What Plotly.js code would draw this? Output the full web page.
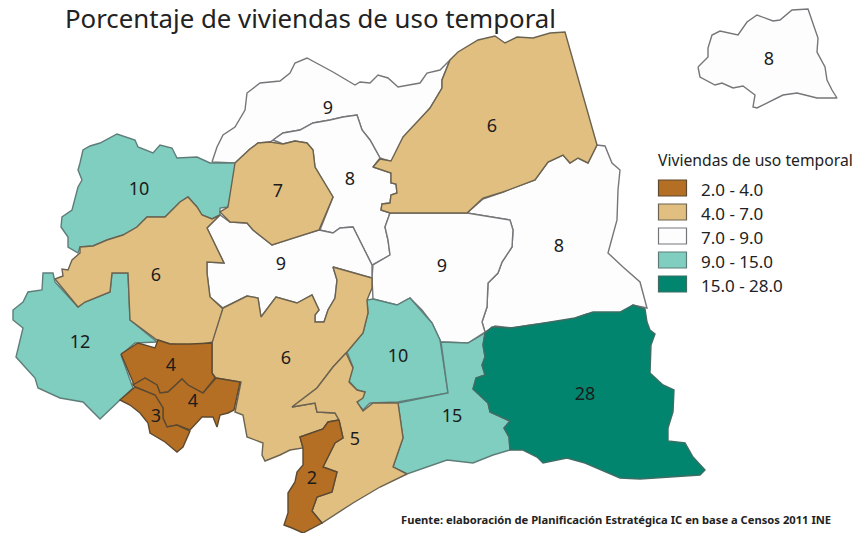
<!DOCTYPE html>
<html>
<head>
<meta charset="utf-8">
<script src="https://cdn.plot.ly/plotly-3.0.1.min.js"></script>
<style>html,body{margin:0;padding:0;background:#fff}#chart{width:860px;height:533px}</style>
</head>
<body>
<div id="chart"></div>
<script>
const norteNueve = [[212,162],[217,147],[223,135],[235,127],[245,110],[247,93],[260,83],[280,81],[290,73],[295,63],[307,58],[320,65],[333,72],[355,85],[360,82],[370,83],[378,75],[388,78],[398,87],[420,83],[427,73],[440,70],[450,60],[442,80],[442,88],[430,108],[410,132],[392,162],[380,158],[370,140],[362,130],[357,115],[343,117],[330,120],[313,123],[300,130],[283,133],[273,140],[270,142],[258,143],[250,149],[235,163]];
const centroOcho = [[273,140],[283,133],[300,130],[313,123],[330,120],[343,117],[357,115],[362,130],[370,140],[380,158],[373,167],[391,173],[391,183],[396,184],[397,193],[391,195],[390,203],[382,204],[381,210],[390,213],[385,227],[388,240],[390,255],[372,265],[363,247],[353,227],[340,228],[333,233],[320,230],[333,197],[315,167],[313,150],[307,143],[295,141],[283,144]];
const esteOcho = [[467,213],[483,199],[503,192],[535,180],[548,162],[563,155],[570,163],[578,158],[588,163],[597,145],[605,146],[612,163],[620,170],[618,190],[617,220],[608,253],[623,267],[640,282],[647,308],[633,305],[622,313],[587,314],[570,320],[530,325],[513,328],[495,326],[485,332],[482,322],[487,307],[488,283],[498,273],[502,262],[512,247],[513,230],[510,220]];
const centroEsteNueve = [[390,213],[430,213],[467,213],[510,220],[513,230],[512,247],[502,262],[498,273],[488,283],[487,307],[482,322],[485,332],[468,343],[441,342],[432,323],[422,310],[410,298],[397,305],[373,299],[372,278],[373,265],[390,255],[388,240],[385,227]];
const centroOesteNueve = [[207,228],[220,215],[230,222],[247,223],[253,230],[272,245],[293,238],[319,230],[333,233],[340,228],[353,227],[363,247],[372,265],[372,278],[333,267],[337,280],[335,298],[328,310],[324,322],[315,322],[315,315],[319,310],[312,295],[297,303],[276,297],[261,317],[258,298],[247,296],[223,308],[210,297],[207,273],[207,262],[224,263]];
const lejanoOcho = [[698,67],[708,57],[708,48],[712,35],[720,31],[738,35],[747,22],[757,15],[773,21],[780,20],[792,10],[808,9],[818,38],[817,52],[825,67],[827,80],[832,90],[837,98],[817,98],[797,93],[783,95],[757,108],[753,107],[755,95],[743,86],[733,88],[722,83],[715,85],[700,77]];
const noroesteDiez = [[80,163],[83,150],[90,146],[100,143],[117,134],[127,137],[135,140],[138,147],[153,153],[160,145],[172,148],[177,158],[197,157],[210,163],[237,163],[228,207],[220,208],[220,215],[212,219],[202,215],[197,207],[188,197],[180,202],[165,217],[147,217],[137,227],[123,235],[107,240],[93,246],[80,247],[78,253],[68,247],[68,237],[61,227],[62,217],[72,210],[78,187],[82,180],[78,170]];
const oesteDoce = [[55,282],[53,273],[43,273],[42,290],[28,292],[23,302],[13,310],[13,320],[23,328],[16,357],[25,367],[35,378],[38,388],[60,398],[83,402],[100,419],[120,400],[133,388],[121,355],[135,343],[157,342],[130,320],[128,273],[112,273],[110,292],[85,302],[78,307]];
const centroDiez = [[347,352],[363,333],[368,313],[367,300],[373,299],[397,305],[410,298],[432,323],[440,340],[448,393],[398,402],[370,403],[363,410],[357,403],[365,392],[357,390],[348,380],[353,367]];
const surQuince = [[441,342],[468,343],[485,333],[483,345],[485,357],[482,365],[485,375],[476,378],[473,389],[488,403],[490,412],[510,421],[504,428],[509,437],[510,450],[493,455],[473,463],[447,460],[407,474],[393,467],[403,438],[398,403],[448,393]];
const oesteSeis = [[55,279],[63,276],[62,269],[68,270],[72,260],[80,253],[80,247],[93,246],[107,240],[123,235],[137,227],[147,217],[165,217],[180,202],[188,197],[197,207],[202,215],[212,219],[220,215],[207,228],[224,263],[207,262],[207,273],[210,297],[223,309],[213,342],[192,346],[170,344],[157,340],[130,320],[128,273],[112,273],[110,292],[85,302],[78,307]];
const sieteCentro = [[235,163],[250,149],[258,143],[270,142],[283,144],[295,141],[307,143],[313,150],[315,167],[333,197],[319,230],[293,238],[272,245],[253,230],[247,223],[230,222],[220,212],[228,207]];
const noresteSeis = [[373,167],[380,159],[391,161],[403,137],[430,108],[442,88],[442,80],[450,60],[458,52],[478,40],[495,36],[505,43],[517,37],[533,38],[550,33],[565,32],[597,145],[588,163],[578,158],[570,163],[563,155],[548,162],[535,180],[503,192],[483,198],[467,213],[430,213],[390,213],[381,210],[382,204],[390,203],[391,195],[397,193],[396,184],[391,183],[391,173]];
const surSeis = [[223,308],[247,296],[258,298],[261,317],[276,297],[297,303],[312,295],[319,310],[315,315],[315,322],[324,322],[328,310],[335,298],[337,280],[333,267],[372,278],[372,288],[367,300],[368,313],[363,333],[347,352],[333,367],[317,388],[292,407],[315,403],[317,412],[335,413],[339,420],[328,422],[323,429],[300,437],[303,448],[290,450],[280,455],[265,461],[262,455],[263,443],[247,437],[243,415],[235,412],[241,382],[216,378],[212,373],[212,343]];
const surCinco = [[346,353],[353,368],[349,382],[357,390],[365,392],[363,398],[357,402],[363,411],[373,403],[398,403],[403,438],[393,467],[407,474],[380,487],[353,503],[322,523],[312,511],[317,497],[332,492],[337,472],[323,467],[335,443],[343,438],[339,420],[335,413],[317,412],[315,403],[292,407],[317,388],[333,367]];
const marronCuatroNorte = [[121,354],[138,343],[155,348],[158,340],[170,344],[190,344],[212,343],[212,373],[215,378],[203,393],[188,385],[182,379],[168,392],[160,393],[157,385],[145,378],[133,385],[133,382]];
const marronCuatroSur = [[133,385],[145,378],[157,385],[160,393],[168,392],[182,379],[188,385],[203,393],[216,378],[240,382],[234,410],[228,413],[220,415],[217,427],[213,417],[202,417],[190,430],[177,425],[167,427],[163,418],[163,408],[155,395],[135,387]];
const marronTres = [[135,387],[120,400],[130,405],[140,413],[148,423],[150,433],[165,442],[177,452],[183,447],[190,431],[177,425],[167,427],[163,418],[163,408],[155,395]];
const marronDos = [[339,420],[328,422],[323,429],[300,437],[303,448],[303,465],[297,472],[295,482],[288,493],[288,513],[284,525],[292,528],[303,533],[322,523],[312,511],[317,497],[332,492],[337,472],[323,467],[335,443],[343,438]];
const verdeVeintiocho = [[485,333],[492,327],[510,328],[532,325],[575,318],[593,312],[620,312],[633,305],[645,309],[647,322],[650,330],[655,334],[651,345],[650,373],[663,385],[674,390],[673,412],[668,428],[668,441],[685,443],[693,457],[705,470],[700,475],[640,479],[620,478],[597,468],[585,463],[567,458],[543,463],[537,457],[523,450],[510,450],[509,437],[504,428],[510,421],[490,412],[488,403],[473,389],[476,378],[485,375],[482,365],[485,357],[483,345]];

const classNames = ['2.0 - 4.0','4.0 - 7.0','7.0 - 9.0','9.0 - 15.0','15.0 - 28.0'];
const classColors = ['#b56f24','#e1bf80','#fdfdfd','#7fcec0','#01856f'];
const classLines = ['#5c4a30','#6b6350','#76767a','#5f7d78','#3f6d63'];

const regionShapes = [norteNueve,centroOcho,esteOcho,centroEsteNueve,centroOesteNueve,lejanoOcho,noroesteDiez,oesteDoce,centroDiez,surQuince,oesteSeis,sieteCentro,noresteSeis,surSeis,surCinco,marronCuatroNorte,marronCuatroSur,marronTres,marronDos,verdeVeintiocho];
const regionClasses = [2,2,2,2,2,2,3,3,3,3,1,1,1,1,1,0,0,0,0,4];

const labelText = ['9','6','8','10','7','8','9','6','9','8','12','4','6','10','4','3','5','15','28','2'];
const labelX = [328,492,769,139,278,350,281,156,442,559,80,171,286,398,193,156,355,452,585,312];
const labelY = [109,127,60,190,192,180,265,276,267,247,343,366,359,357,402,417,440,417,395,479];

const titleText = 'Porcentaje de viviendas de uso temporal';
const legendTitle = 'Viviendas de uso temporal';
const sourceText = 'Fuente: elaboración de Planificación Estratégica IC en base a Censos 2011 INE';
const legendRowY = [188,212,236,260,284];

const traces = regionShapes.map((r,i)=>({
  type:'scatter', mode:'lines', fill:'toself',
  x:r.concat([r[0]]).map(p=>p[0]), y:r.concat([r[0]]).map(p=>p[1]),
  fillcolor:classColors[regionClasses[i]],
  line:{color:classLines[regionClasses[i]],width:1.4},
  hoverinfo:'skip', showlegend:false
}));
traces.push({type:'scatter',mode:'text',x:labelX,y:labelY,text:labelText,
  textfont:{family:'"Noto Sans", sans-serif',size:18,color:'#1c1c1c'},
  textposition:'middle center',hoverinfo:'skip',showlegend:false});

const shapes = legendRowY.map((y,i)=>({type:'rect',xref:'x',yref:'y',x0:658.5,x1:686.5,y0:y-8,y1:y+8,
  fillcolor:classColors[i],line:{color:classLines[i],width:1.2}}));
const annotations = legendRowY.map((y,i)=>({xref:'x',yref:'y',x:699,y:y+1.5,text:classNames[i],showarrow:false,xanchor:'left',yanchor:'middle',
  font:{family:'"Noto Sans", sans-serif',size:17,color:'#222'}}));
annotations.push({xref:'x',yref:'y',x:656,y:160,text:legendTitle,showarrow:false,xanchor:'left',yanchor:'middle',
  font:{family:'"Noto Sans", sans-serif',size:15.7,color:'#222'}});
annotations.push({xref:'x',yref:'y',x:399,y:519,text:'<b>'+sourceText+'</b>',showarrow:false,xanchor:'left',yanchor:'middle',
  font:{family:'"Noto Sans", sans-serif',size:11.2,color:'#222'}});

Plotly.newPlot('chart',traces,{
  width:860,height:533,margin:{l:0,r:0,t:0,b:0},
  paper_bgcolor:'#fff',plot_bgcolor:'#fff',showlegend:false,
  title:{text:titleText,x:65/860,xanchor:'left',y:1-19/533,yanchor:'middle',font:{family:'"Noto Sans", sans-serif',size:25.8,color:'#222'}},
  xaxis:{range:[0,860],visible:false,fixedrange:true},
  yaxis:{range:[533,0],visible:false,fixedrange:true},
  shapes,annotations
},{displayModeBar:false,staticPlot:true});
</script>
</body>
</html>
